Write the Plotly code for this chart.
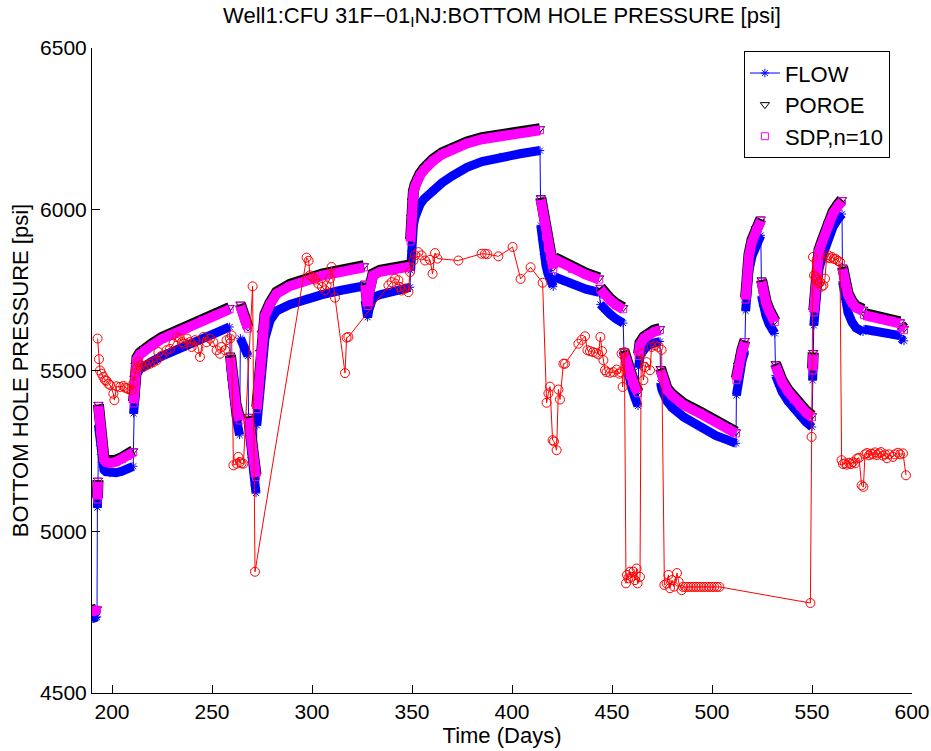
import plotly.graph_objects as go

# ---------------- simulated series (None = break between simulation periods) -------------
t_sim = [
    190.0, 190.5, 191.0, 191.5, 192.0, 192.5, None,
    192.7, 192.85, 193.0, None,
    193.2, 193.6, 194.0, 194.5, 195.0, 195.5, 196.0, 197.0, 199.0, 202.0, 205.0, 208.0, 210.6, None,
    210.8, 211.2, 211.7, 212.5, 214.0, 216.0, 220.0, 225.0, 230.0, 237.0, 245.0, 252.0, 258.8, None,
    259.2, 259.8, 260.5, 261.2, 262.0, 263.0, 263.8, None,
    264.2, 265.0, 266.0, 267.0, 268.0, None,
    268.3, 269.0, 269.8, 270.6, 271.4, 272.0, None,
    272.4, 273.2, 274.0, 274.8, 276.5, 279.0, 282.3, 289.0, 297.3, 305.0, 314.0, 320.0, 326.0, None,
    326.6, 327.2, 327.8, 328.5, 329.3, 330.5, 334.0, 340.0, 345.0, 349.0, None,
    349.3, 349.6, 350.0, 350.7, 351.5, 352.5, 354.0, 356.0, 358.0, 360.5, 365.0, 370.0, 377.5, 385.0, 394.0, 404.0, 414.0, None,
    414.4, 415.0, 416.0, 417.0, 418.0, 419.0, 420.6, None,
    421.4, 425.0, 430.0, 437.0, 443.6, None,
    444.2, 446.0, 449.0, 452.0, 455.6, None,
    456.0, 457.0, 458.0, 459.0, 460.0, 461.5, 463.0, None,
    463.3, 464.0, 466.0, 468.0, 471.0, 474.0, None,
    474.3, 475.0, 477.5, 480.0, 486.0, 494.0, 502.0, 508.0, 512.0, None,
    512.2, 513.0, 514.0, 515.0, 516.4, None,
    516.8, 517.5, 518.5, 520.0, 522.0, 524.4, None,
    524.8, 525.5, 527.0, 528.5, 530.0, 531.4, None,
    531.8, 533.0, 535.0, 538.0, 541.0, 544.0, 547.0, 550.0, None,
    550.3, 550.6, None,
    550.9, 551.5, 552.3, 553.5, 555.5, 558.0, 560.5, 563.0, 565.0, None,
    565.3, 566.5, 568.0, 570.0, 572.0, 575.5, None,
    576.0, 580.0, 585.0, 590.0, 594.0, None,
    594.5, 596.0,
]

flow = [
    4730, 4731, 4732, 4733, 4734, 4736, None,
    5075, 5110, 5140, None,
    5330, 5300, 5268, 5240, 5215, 5200, 5192, 5186, 5182, 5183, 5188, 5195, 5203, None,
    5367, 5420, 5460, 5490, 5505, 5515, 5528, 5545, 5560, 5575, 5598, 5617, 5635, None,
    5520, 5470, 5430, 5395, 5360, 5325, 5300, None,
    5600, 5585, 5570, 5558, 5545, None,
    5330, 5280, 5230, 5185, 5145, 5120, None,
    5330, 5390, 5470, 5530, 5600, 5655, 5685, 5705, 5722, 5735, 5748, 5756, 5762, None,
    5715, 5688, 5665, 5690, 5710, 5726, 5735, 5745, 5752, 5758, None,
    5810, 5870, 5915, 5950, 5975, 5996, 6015, 6032, 6045, 6058, 6082, 6103, 6130, 6148, 6162, 6172, 6182, None,
    5950, 5905, 5860, 5825, 5800, 5780, 5760, None,
    5790, 5780, 5768, 5752, 5742, None,
    5705, 5690, 5675, 5660, 5647, None,
    5553, 5520, 5492, 5466, 5443, 5415, 5390, None,
    5510, 5545, 5565, 5577, 5585, 5590, None,
    5460, 5440, 5405, 5385, 5355, 5324, 5298, 5284, 5274, None,
    5423, 5470, 5500, 5530, 5560, None,
    5685, 5750, 5810, 5855, 5890, 5919, None,
    5730, 5700, 5670, 5645, 5628, 5615, None,
    5485, 5460, 5435, 5405, 5380, 5360, 5340, 5325, None,
    5470, 5520, None,
    5640, 5700, 5770, 5815, 5860, 5905, 5945, 5970, 5985, None,
    5775, 5720, 5680, 5650, 5632, 5620, None,
    5628, 5622, 5617, 5612, 5608, None,
    5598, 5592,
]

poroe = [
    4755, 4756, 4757, 4758, 4759, 4761, None,
    5105, 5135, 5160, None,
    5395, 5355, 5315, 5283, 5257, 5240, 5228, 5221, 5218, 5222, 5230, 5241, 5251, None,
    5404, 5476, 5516, 5540, 5555, 5567, 5583, 5603, 5617, 5635, 5660, 5677, 5695, None,
    5548, 5502, 5462, 5427, 5396, 5371, 5351, None,
    5706, 5686, 5665, 5650, 5635, None,
    5358, 5311, 5266, 5226, 5196, 5176, None,
    5386, 5446, 5556, 5616, 5675, 5710, 5743, 5767, 5785, 5799, 5810, 5817, 5825, None,
    5771, 5736, 5706, 5746, 5777, 5800, 5811, 5818, 5823, 5827, None,
    5906, 5976, 6026, 6056, 6076, 6093, 6110, 6127, 6141, 6155, 6175, 6191, 6209, 6222, 6233, 6242, 6250, None,
    6036, 6011, 5966, 5921, 5886, 5858, 5820, None,
    5850, 5837, 5820, 5802, 5787, None,
    5758, 5740, 5723, 5708, 5695, None,
    5561, 5536, 5511, 5490, 5471, 5452, 5435, None,
    5551, 5586, 5605, 5615, 5625, 5630, None,
    5506, 5487, 5445, 5427, 5397, 5372, 5345, 5325, 5310, None,
    5476, 5516, 5540, 5565, 5593, None,
    5726, 5796, 5860, 5905, 5940, 5970, None,
    5781, 5746, 5715, 5690, 5670, 5655, None,
    5521, 5495, 5470, 5440, 5415, 5395, 5375, 5360, None,
    5506, 5556, None,
    5686, 5746, 5835, 5875, 5910, 5955, 5992, 6015, 6030, None,
    5821, 5775, 5740, 5715, 5700, 5690, None,
    5677, 5670, 5663, 5657, 5651, None,
    5640, 5630,
]

sdp = [
    4752, 4753, 4754, 4755, 4756, 4758, None,
    5100, 5130, 5155, None,
    5390, 5350, 5310, 5278, 5252, 5235, 5223, 5216, 5213, 5217, 5225, 5236, 5246, None,
    5398, 5470, 5510, 5535, 5550, 5562, 5578, 5598, 5612, 5630, 5655, 5672, 5690, None,
    5540, 5495, 5455, 5420, 5390, 5365, 5345, None,
    5700, 5680, 5660, 5645, 5630, None,
    5352, 5305, 5260, 5220, 5190, 5170, None,
    5380, 5440, 5550, 5610, 5670, 5705, 5738, 5762, 5780, 5794, 5805, 5812, 5820, None,
    5765, 5730, 5700, 5740, 5772, 5795, 5806, 5813, 5818, 5822, None,
    5900, 5970, 6020, 6050, 6070, 6088, 6105, 6122, 6136, 6150, 6170, 6186, 6204, 6217, 6228, 6237, 6245, None,
    6030, 6005, 5960, 5915, 5880, 5853, 5815, None,
    5845, 5832, 5815, 5797, 5782, None,
    5752, 5735, 5718, 5703, 5690, None,
    5555, 5530, 5505, 5485, 5466, 5447, 5430, None,
    5545, 5580, 5600, 5610, 5620, 5625, None,
    5500, 5482, 5440, 5422, 5392, 5367, 5340, 5320, 5305, None,
    5470, 5510, 5535, 5560, 5588, None,
    5720, 5790, 5855, 5900, 5935, 5965, None,
    5775, 5740, 5710, 5685, 5665, 5650, None,
    5515, 5490, 5465, 5435, 5410, 5390, 5370, 5355, None,
    5500, 5550, None,
    5680, 5740, 5830, 5870, 5905, 5950, 5987, 6010, 6025, None,
    5815, 5770, 5735, 5710, 5695, 5685, None,
    5672, 5665, 5658, 5652, 5646, None,
    5635, 5625,
]

# ---------------- observed (red) series -------------
t_obs = [
    192.8, 193.5, 194.0, 194.8, 195.7, 196.5, 197.3, 198.2, 199.0, 200.7, 201.2, 202.3, 204.0, 205.7,
    206.5, 207.3, 208.2, 209.8, 210.7, 211.5, 212.3, 213.2, 214.0, 215.7, 217.3, 219.0, 220.7, 222.3,
    223.2, 225.0, 227.3, 229.0, 230.7, 232.3, 234.0, 235.0, 235.8, 237.5, 239.0, 239.8, 241.5, 243.2,
    244.0, 245.7, 247.3, 249.0, 250.7, 252.3, 254.0, 254.8, 256.5, 257.3, 259.0, 259.8, 260.7, 262.3,
    263.2, 264.0, 264.8, 265.7, 270.3, 271.5, 297.3, 298.3, 299.0, 300.2, 301.5, 303.2, 305.0, 306.5,
    307.3, 309.0, 309.8, 311.5, 316.5, 317.3, 318.2, 338.2, 339.8, 341.5, 343.2, 344.0, 344.8, 346.5,
    348.2, 349.0, 350.7, 351.5, 353.2, 354.8, 356.5, 359.0, 360.3, 361.5, 362.7, 373.2, 384.8, 386.5,
    387.7, 393.2, 400.3, 404.3, 409.3, 415.3, 417.3, 418.2, 419.0, 420.3, 421.0, 422.3, 423.2, 424.0,
    425.7, 426.5, 433.2, 434.8, 436.5, 437.7, 439.0, 440.5, 442.0, 443.2, 444.2, 445.0, 445.7, 446.5,
    447.3, 449.0, 450.7, 452.3, 453.7, 454.3, 454.8, 455.3, 456.2, 457.0, 457.5, 458.2, 459.0, 459.8,
    460.7, 461.5, 462.3, 462.8, 464.0, 464.6, 465.7, 466.5, 467.3, 469.0, 469.8, 471.5, 473.2, 474.8,
    476.2, 477.3, 478.2, 479.0, 480.0, 481.0, 482.5, 483.3, 484.8, 485.5, 486.8, 488.1, 489.4, 490.7,
    492.0, 493.3, 494.6, 495.9, 497.2, 498.5, 499.8, 501.1, 502.4, 503.7, 549.2, 549.8, 550.5, 551.0,
    551.8, 552.5, 553.2, 554.0, 554.8, 555.7, 556.5, 557.3, 558.2, 559.0, 560.0, 561.0, 562.0, 563.0,
    564.0, 564.8, 565.5, 566.5, 567.5, 568.5, 569.5, 570.5, 571.5, 572.5, 573.5, 574.8, 575.7, 576.5,
    577.5, 578.5, 579.5, 580.5, 581.5, 582.5, 583.5, 584.5, 585.5, 586.5, 587.5, 588.5, 590.5, 591.5,
    593.0, 594.0, 595.5, 597.0,
]
obs = [
    5599, 5535, 5500, 5490, 5480, 5470, 5468, 5459, 5455, 5428, 5408, 5451, 5449, 5452,
    5447, 5445, 5442, 5439, 5460, 5491, 5506, 5526, 5516, 5511, 5516, 5521, 5526, 5531,
    5557, 5546, 5563, 5567, 5583, 5604, 5599, 5588, 5583, 5599, 5588, 5573, 5594, 5568,
    5542, 5604, 5588, 5599, 5588, 5563, 5552, 5573, 5563, 5594, 5599, 5609, 5206, 5211,
    5232, 5216, 5212, 5211, 5761, 4876, 5850, 5840, 5795, 5790, 5782, 5769, 5759, 5749,
    5764, 5785, 5821, 5726, 5492, 5602, 5604, 5764, 5774, 5785, 5780, 5759, 5748, 5754,
    5743, 5805, 5841, 5857, 5867, 5857, 5841, 5843, 5800, 5864, 5847, 5841, 5862, 5862,
    5861, 5854, 5883, 5784, 5820, 5772, 5400, 5429, 5450, 5284, 5280, 5253, 5441, 5410,
    5521, 5521, 5583, 5595, 5606, 5563, 5560, 5557, 5555, 5550, 5604, 5560, 5532, 5501,
    5495, 5493, 5495, 5503, 5490, 5495, 5552, 5449, 5557, 4840, 4866, 4856, 4876, 4860,
    4876, 4850, 4886, 4840, 4860, 5552, 5470, 5511, 5526, 5501, 5573, 5578, 5573, 5564,
    4835, 4840, 4866, 4825, 4850, 4830, 4872, 4845, 4819, 4829, 4829, 4829, 4829, 4829,
    4829, 4829, 4829, 4829, 4829, 4829, 4829, 4829, 4829, 4829, 4779, 5294, 5852, 5795,
    5790, 5782, 5770, 5774, 5760, 5764, 5785, 5850, 5857, 5848, 5852, 5846, 5845, 5840,
    5836, 5222, 5210, 5212, 5208, 5214, 5210, 5216, 5212, 5227, 5229, 5144, 5139, 5240,
    5244, 5237, 5242, 5240, 5246, 5238, 5243, 5247, 5236, 5240, 5228, 5240, 5232, 5240,
    5245, 5240, 5243, 5175,
]

x_ticks = [200, 250, 300, 350, 400, 450, 500, 550, 600]
y_ticks = [4500, 5000, 5500, 6000, 6500]

title_text = "Well1:CFU 31F\u221201<sub>I</sub>NJ:BOTTOM HOLE PRESSURE [psi]"
x_title = "Time (Days)"
y_title = "BOTTOM HOLE PRESSURE [psi]"

FONT = "Liberation Sans, Arial, Helvetica, sans-serif"
BLUE = "#0000ff"
MAGENTA = "#ff00ff"
RED = "#ff0000"

fig = go.Figure()

# FLOW: dense-marker band, thin connecting line with star markers
fig.add_trace(go.Scatter(x=t_sim, y=flow, mode="lines", line=dict(color=BLUE, width=9),
                         connectgaps=False, showlegend=False, hoverinfo="skip"))
fig.add_trace(go.Scatter(x=t_sim, y=flow, mode="lines+markers", name="FLOW",
                         line=dict(color=BLUE, width=1), connectgaps=True,
                         marker=dict(symbol="asterisk-open", size=7, color=BLUE,
                                     line=dict(color=BLUE, width=1))))
# POROE
fig.add_trace(go.Scatter(x=t_sim, y=poroe, mode="lines", line=dict(color="black", width=11),
                         connectgaps=False, showlegend=False, hoverinfo="skip"))
fig.add_trace(go.Scatter(x=t_sim, y=poroe, mode="markers", name="POROE",
                         marker=dict(symbol="triangle-down-open", size=8, color="black",
                                     line=dict(color="black", width=1))))
# SDP
fig.add_trace(go.Scatter(x=t_sim, y=sdp, mode="lines", line=dict(color=MAGENTA, width=10),
                         connectgaps=False, showlegend=False, hoverinfo="skip"))
fig.add_trace(go.Scatter(x=t_sim, y=sdp, mode="markers", name="SDP,n=10",
                         marker=dict(symbol="square-open", size=7, color=MAGENTA,
                                     line=dict(color=MAGENTA, width=1))))
# Observed
fig.add_trace(go.Scatter(x=t_obs, y=obs, mode="lines+markers", name="observed",
                         showlegend=False, line=dict(color=RED, width=1),
                         marker=dict(symbol="circle-open", size=9, color=RED,
                                     line=dict(color=RED, width=1))))

axis_common = dict(showline=True, linecolor="black", linewidth=1, mirror=False,
                   ticks="inside", ticklen=8, tickwidth=1, tickcolor="black",
                   showgrid=False, zeroline=False, automargin=False,
                   tickfont=dict(family=FONT, size=21, color="black"))

fig.update_layout(
    width=931, height=751,
    margin=dict(l=92, r=19, t=48, b=58),
    paper_bgcolor="white", plot_bgcolor="white",
    font=dict(family=FONT, size=21, color="black"),
    title=dict(text=title_text, x=0.5, xref="paper", xanchor="center",
               y=1 - 15 / 751, yref="container", yanchor="middle",
               font=dict(family=FONT, size=22, color="black")),
    xaxis=dict(range=[190, 600], tickvals=x_ticks, ticktext=[str(v) for v in x_ticks],
               title=dict(text=x_title, standoff=1, font=dict(family=FONT, size=22)),
               **axis_common),
    yaxis=dict(range=[4500, 6500], tickvals=y_ticks, ticktext=[str(v) for v in y_ticks],
               title=dict(text=y_title, standoff=5, font=dict(family=FONT, size=22)),
               **axis_common),
    legend=dict(x=0.795, y=0.995, xanchor="left", yanchor="top",
                bgcolor="white", bordercolor="black", borderwidth=1,
                font=dict(family=FONT, size=22, color="black"),
                tracegroupgap=0, itemsizing="trace"),
    showlegend=True,
)

fig.write_html("out.html", config={"displayModeBar": False})
